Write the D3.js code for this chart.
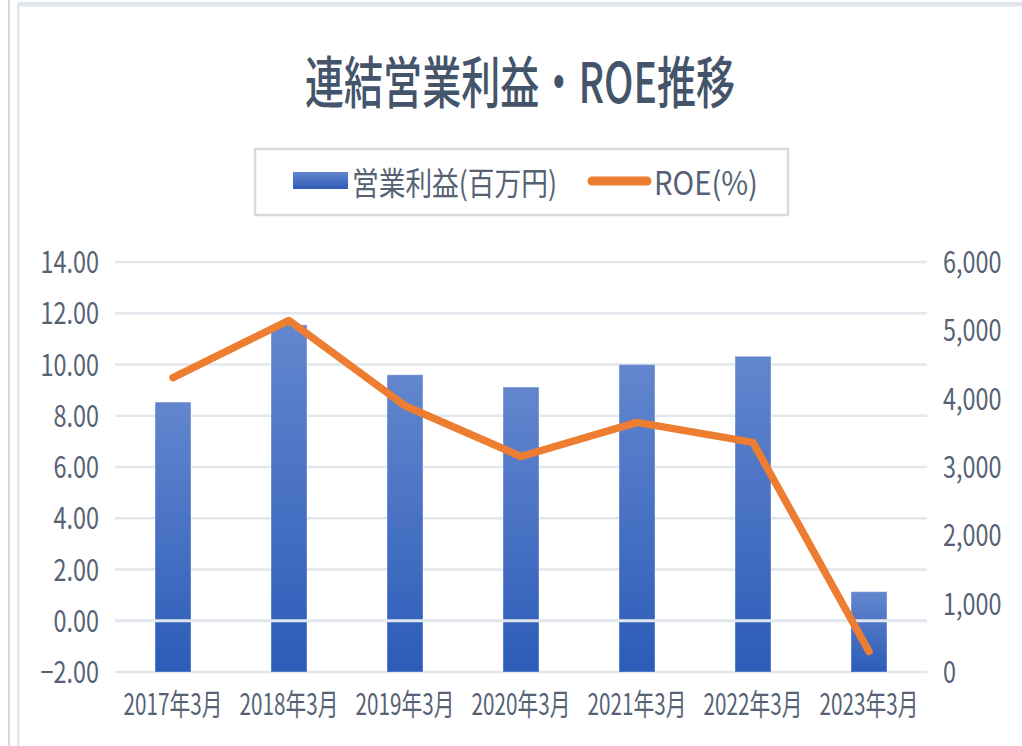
<!DOCTYPE html>
<html lang="ja">
<head>
<meta charset="UTF-8">
<title>連結営業利益・ROE推移</title>
<script src="https://d3js.org/d3.v7.min.js"></script>
<style>
  body { margin: 0; background: #fff; }
  svg { display: block; }
  text { font-family: "Noto Sans CJK JP", "Noto Sans", sans-serif; fill: #566274; }
</style>
</head>
<body>
<div id="chart"></div>
<script>
// data
const categories = ["2017年3月", "2018年3月", "2019年3月", "2020年3月", "2021年3月", "2022年3月", "2023年3月"];
const profit = [3950, 5080, 4350, 4170, 4500, 4620, 1175];   // 営業利益(百万円), right axis
const roe = [9.49, 11.72, 8.39, 6.41, 7.74, 6.96, -1.20];     // ROE(%), left axis
const leftTicks = [-2, 0, 2, 4, 6, 8, 10, 12, 14];
const rightTicks = [0, 1000, 2000, 3000, 4000, 5000, 6000];
const seriesNames = ["営業利益(百万円)", "ROE(%)"];
const title = "連結営業利益・ROE推移";

const W = 1022, H = 746;
const plot = { left: 115, right: 927, top: 262, bottom: 672 };
const sxY = 0.78; // labels are drawn narrow in the reference
const sxX = 0.69;

const svg = d3.select("#chart").append("svg")
  .attr("width", W).attr("height", H);

// gradient for the bars
const defs = svg.append("defs");
const grad = defs.append("linearGradient")
  .attr("id", "barGrad").attr("x1", 0).attr("y1", 0).attr("x2", 0).attr("y2", 1);
grad.append("stop").attr("offset", "0%").attr("stop-color", "#6386ce");
grad.append("stop").attr("offset", "100%").attr("stop-color", "#2c5cb8");

// outer frame
svg.append("rect").attr("x", 8).attr("y", 0).attr("width", 2).attr("height", H).attr("fill", "#d7d7d7");
svg.append("rect").attr("x", 17).attr("y", 2).attr("width", 2.5).attr("height", H).attr("fill", "#e2e7ee");
svg.append("rect").attr("x", 17).attr("y", 2).attr("width", W - 17).attr("height", 4.5).attr("fill", "#e2e7ee");

// title
svg.append("text")
  .attr("x", 520).attr("y", 78)
  .attr("text-anchor", "middle")
  .attr("dominant-baseline", "central")
  .attr("textLength", 430)
  .attr("lengthAdjust", "spacingAndGlyphs")
  .style("font-size", "56px")
  .style("font-weight", "500")
  .style("fill", "#44546a")
  .text(title);

// legend
const legend = svg.append("g");
legend.append("rect")
  .attr("x", 255).attr("y", 149).attr("width", 533).attr("height", 66)
  .attr("fill", "#fff").attr("stroke", "#d9d9d9").attr("stroke-width", 2.5);
legend.append("rect")
  .attr("x", 293).attr("y", 172).attr("width", 55).attr("height", 17)
  .attr("fill", "url(#barGrad)");
legend.append("text")
  .attr("x", 352).attr("y", 181)
  .attr("dominant-baseline", "central")
  .attr("textLength", 205).attr("lengthAdjust", "spacingAndGlyphs")
  .style("font-size", "32px")
  .text(seriesNames[0]);
legend.append("line")
  .attr("x1", 592).attr("x2", 647).attr("y1", 181).attr("y2", 181)
  .attr("stroke", "#ed7d31").attr("stroke-width", 9).attr("stroke-linecap", "round");
legend.append("text")
  .attr("x", 654).attr("y", 181)
  .attr("dominant-baseline", "central")
  .attr("textLength", 104).attr("lengthAdjust", "spacingAndGlyphs")
  .style("font-size", "32px")
  .text(seriesNames[1]);

// scales
const x = d3.scaleBand()
  .domain(categories)
  .range([plot.left, plot.right])
  .paddingInner(0.69)
  .paddingOuter(0.345);

const yL = d3.scaleLinear().domain([-2, 14]).range([plot.bottom, plot.top]);
const yR = d3.scaleLinear().domain([0, 6000]).range([plot.bottom, plot.top]);

// gridlines
svg.append("g")
  .selectAll("line")
  .data(leftTicks)
  .join("line")
  .attr("x1", plot.left).attr("x2", plot.right)
  .attr("y1", d => yL(d)).attr("y2", d => yL(d))
  .attr("stroke", "#e2e7ee").attr("stroke-width", 2.5);

// bars
svg.append("g")
  .selectAll("rect")
  .data(profit)
  .join("rect")
  .attr("x", (d, i) => x(categories[i]))
  .attr("y", d => yR(d))
  .attr("width", x.bandwidth())
  .attr("height", d => yR(0) - yR(d))
  .attr("fill", "url(#barGrad)")
  .attr("stroke", "rgba(255,255,255,0.35)")
  .attr("stroke-width", 1);

// zero line of the left axis sits over the bars
svg.append("line")
  .attr("x1", plot.left).attr("x2", plot.right)
  .attr("y1", yL(0)).attr("y2", yL(0))
  .attr("stroke", "#e2e7ee").attr("stroke-width", 3);

// ROE line
const line = d3.line()
  .x((d, i) => x(categories[i]) + x.bandwidth() / 2)
  .y(d => yL(d));

svg.append("path")
  .datum(roe)
  .attr("d", line)
  .attr("fill", "none")
  .attr("stroke", "#ed7d31")
  .attr("stroke-width", 7.5)
  .attr("stroke-linejoin", "round")
  .attr("stroke-linecap", "round");

// axes
const axisL = svg.append("g")
  .attr("transform", "translate(99,0)")
  .call(d3.axisLeft(yL).tickValues(leftTicks).tickFormat(d3.format(".2f")).tickSize(0).tickPadding(0));

const axisR = svg.append("g")
  .attr("transform", "translate(943,0)")
  .call(d3.axisRight(yR).tickValues(rightTicks).tickFormat(d3.format(",")).tickSize(0).tickPadding(0));

const axisB = svg.append("g")
  .attr("transform", "translate(0,704)")
  .call(d3.axisBottom(x).tickSize(0).tickPadding(0));

[[axisL, sxY], [axisR, sxY], [axisB, sxX]].forEach(([a, s]) => {
  a.select(".domain").remove();
  a.selectAll("text")
    .attr("x", 0)
    .attr("dy", "0.35em")
    .attr("transform", `scale(${s},1)`)
    .style("font-size", "30px")
    .style("fill", "#566274")
    .attr("font-family", null);
});
axisB.selectAll("text").attr("y", 0);
</script>
</body>
</html>
